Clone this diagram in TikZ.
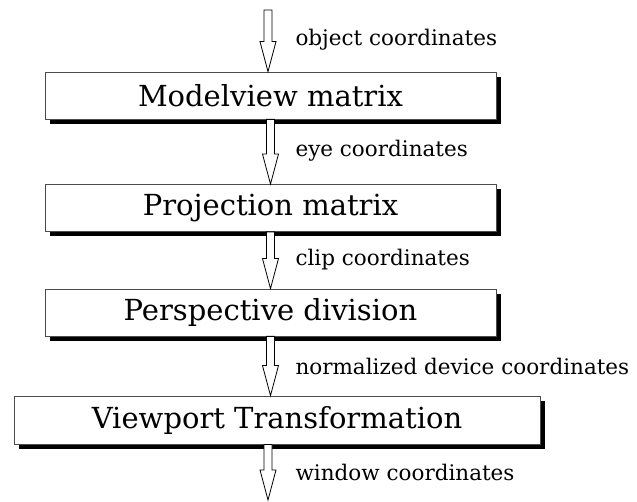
\documentclass[tikz,border=0pt]{standalone}
\usepackage{fontspec}
\setmainfont{DejaVu Serif}
\usetikzlibrary{calc,shadows}

\begin{document}
\begin{tikzpicture}
		[x=1pt,y=1pt,
		stage/.style={shape=rectangle,draw=black!70,line width=0.8pt,fill=white,
			minimum width=451pt,minimum height=47pt,inner sep=0pt,
			font=\fontsize{29}{33}\selectfont,
			drop shadow={shadow xshift=5pt,shadow yshift=-5pt,fill=black,opacity=1}},
		coord label/.style={anchor=west,font=\fontsize{21.5}{25}\selectfont},
		flow/.style={draw=black,fill=white,line width=0.8pt,
			to path={let \p1=(\tikztostart),\p2=(\tikztotarget) in
				(\x1-4pt,\y1) -- (\x1-4pt,\y2+30pt) -- (\x1-8pt,\y2+30pt) -- (\x1,\y2)
				-- (\x1+8pt,\y2+30pt) -- (\x1+4pt,\y2+30pt) -- (\x1+4pt,\y1) -- cycle}}]
		\useasboundingbox (0,0) rectangle (637,-502);
		
		\node [stage] (mv) at (270.5,-95.5) {Modelview matrix};
		\node [stage] (pr) at (270.5,-208) {Projection matrix};
		\node [stage] (pd) at (270.5,-312.5) {Perspective division};
		\node [stage,minimum width=526pt,minimum height=48pt] (vp) at (277,-420) {Viewport Transformation};
		
		\coordinate (in) at (268,-10);
		\coordinate (out) at (268,-500);
		
		\path
		(in) edge [flow] (mv.north)
		(mv.south) edge [flow] (pr.north)
		(pr.south) edge [flow] (pd.north)
		(pd.south) edge [flow] (vp.north)
		(vp.south -| out) edge [flow] (out)
		;
		
		\node [coord label] (objc) at (292,-40) {object coordinates};
		\node [coord label] (eyec) at (292,-151) {eye coordinates};
		\node [coord label] (clipc) at (292,-260) {clip coordinates};
		\node [coord label] (ndc) at (292,-366) {normalized device coordinates};
		\node [coord label] (winc) at (292,-472) {window coordinates};
		
		\end{tikzpicture}
\end{document}
